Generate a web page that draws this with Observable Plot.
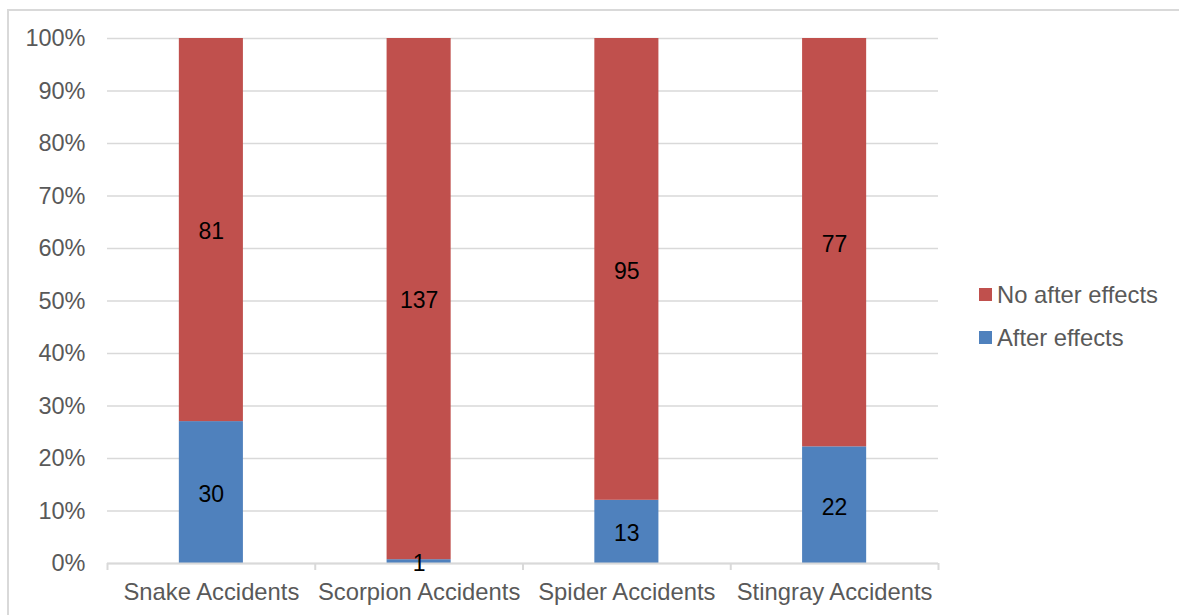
<!DOCTYPE html>
<html>
<head>
<meta charset="utf-8">
<script src="https://cdn.jsdelivr.net/npm/d3@7"></script>
<script src="https://cdn.jsdelivr.net/npm/@observablehq/plot@0.6"></script>
<style>
  html, body { margin: 0; padding: 0; background: #fff; }
  #wrap { position: relative; width: 1179px; height: 615px; overflow: hidden; font-family: "Liberation Sans", Arial, sans-serif; }
  #border { position: absolute; left: 7px; top: 9px; right: -2px; bottom: -2px; border-top: 2px solid #D9D9D9; border-left: 2px solid #D9D9D9; }
  #chart { position: absolute; left: 0; top: 0; }
  #legend { position: absolute; left: 979px; top: 273px; font-size: 23.8px; color: #595959; }
  .item { display: flex; align-items: center; height: 43px; }
  .sw { width: 13px; height: 13px; margin-right: 5px; }
</style>
</head>
<body>
<div id="wrap">
  <div id="border"></div>
  <div id="chart"></div>
  <div id="legend"></div>
</div>
<script>
const categories = ["Snake Accidents", "Scorpion Accidents", "Spider Accidents", "Stingray Accidents"];
const afterEffects = [30, 1, 13, 22];
const noAfterEffects = [81, 137, 95, 77];
const seriesNames = ["After effects", "No after effects"];
const seriesColors = ["#4F81BD", "#C0504D"];
const yTicks = [0, 0.1, 0.2, 0.3, 0.4, 0.5, 0.6, 0.7, 0.8, 0.9, 1];

const data = [];
categories.forEach((c, i) => {
  data.push({category: c, series: seriesNames[0], value: afterEffects[i]});
  data.push({category: c, series: seriesNames[1], value: noAfterEffects[i]});
});

const W = 1179, mL = 107, mR = 241;
const step = (W - mL - mR) / categories.length;

const chart = Plot.plot({
  width: W,
  height: 615,
  marginLeft: mL,
  marginRight: mR,
  marginTop: 38,
  marginBottom: 52,
  style: { fontFamily: '"Liberation Sans", Arial, sans-serif', fontSize: "23.5px", background: "transparent", overflow: "visible" },
  x: { domain: categories, paddingInner: 0.6916, paddingOuter: 0.3458, align: 0.5, round: false, label: null },
  y: { domain: [0, 1], label: null },
  color: { domain: seriesNames, range: seriesColors },
  marks: [
    Plot.gridY(yTicks, { stroke: "#D9D9D9", strokeOpacity: 1, strokeWidth: 1.3 }),
    Plot.barY(data, Plot.stackY({ x: "category", y: "value", z: "series", fill: "series", order: seriesNames, offset: "normalize" })),
    Plot.ruleY([0], { stroke: "#D9D9D9", strokeWidth: 2 }),
    Plot.ruleX(categories, { x: d => d, y1: 0, y2: 0, insetBottom: -7, dx: -step / 2, stroke: "#D9D9D9", strokeWidth: 2 }),
    Plot.ruleX(categories.slice(-1), { x: d => d, y1: 0, y2: 0, insetBottom: -7, dx: step / 2, stroke: "#D9D9D9", strokeWidth: 2 }),
    Plot.text(data, Plot.stackY({ x: "category", y: "value", z: "series", order: seriesNames, offset: "normalize", text: d => String(d.value), fill: "#000", fontSize: 23, dy: 2 })),
    Plot.axisY(yTicks, { tickFormat: d => Math.round(d * 100) + "%", tickSize: 0, tickPadding: 22, color: "#595959", fontSize: 23.5 }),
    Plot.axisX({ tickSize: 0, tickPadding: 20, color: "#595959", fontSize: 23.8 })
  ]
});
document.getElementById("chart").appendChild(chart);

const legend = document.getElementById("legend");
[1, 0].forEach(i => {
  const item = document.createElement("div");
  item.className = "item";
  const sw = document.createElement("div");
  sw.className = "sw";
  sw.style.background = seriesColors[i];
  const t = document.createElement("span");
  t.textContent = seriesNames[i];
  item.appendChild(sw);
  item.appendChild(t);
  legend.appendChild(item);
});
</script>
</body>
</html>
